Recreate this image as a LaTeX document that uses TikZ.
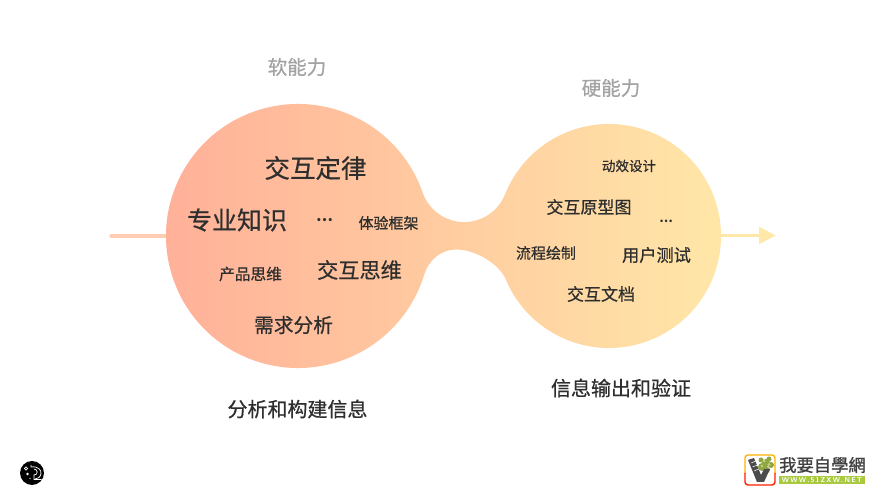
\documentclass[tikz,border=0pt]{standalone}
\usepackage{fontspec}
\usetikzlibrary{arrows.meta,calc}
\newfontfamily\cjk{Noto Sans CJK SC}[FakeBold=0.6]
\newfontfamily\cjkdots{Noto Sans CJK SC}
\newfontfamily\cjkt{Noto Sans CJK TC}[FakeBold=1.2]
\definecolor{peach}{HTML}{FFAF98}
\definecolor{cream}{HTML}{FFE8A8}
\definecolor{inline}{HTML}{FFCDB4}
\definecolor{ink}{HTML}{2E2E2E}
\definecolor{mute}{HTML}{A3A3A3}
\definecolor{leaf}{HTML}{8FA644}
\definecolor{leaflight}{HTML}{C2D07A}
\definecolor{barg}{HTML}{A9C93F}
\tikzset{
  lab/.style={text=ink,inner sep=0pt,font=\cjk\fontsize{#1}{#1}\selectfont},
  dots/.style={text=ink,inner sep=0pt,font=\cjkdots\bfseries\fontsize{#1}{#1}\selectfont},
  head/.style={text=mute,inner sep=0pt,font=\cjk\fontsize{19.5}{20}\selectfont},
}
\begin{document}
\begin{tikzpicture}[x=1pt,y=1pt]
\useasboundingbox (0,0) rectangle (887,500);
\fill[white] (0,0) rectangle (887,500);
\coordinate (L) at (298,264);
\coordinate (R) at (609,264);
\coordinate (N) at (464.2,321.9);
\coordinate (inL) at (111,264);
\coordinate (inE) at (175,264);
\coordinate (outS) at (715,264.5);
\coordinate (outE) at (776,264.5);
\draw[line width=3.2pt,line cap=round,color=inline] (inL) -- (inE);
\draw[line width=3.4pt,color=cream,-{Triangle[length=17pt,width=16.5pt]}] (outS) -- (outE);
\shade[left color=peach,right color=cream,draw=none]
  ($(L)+(19.2:132)$) arc[start angle=19.2,end angle=343,radius=132pt]
  .. controls +(73:15) and (441,250.5) .. (456,250.5)
  .. controls (476,250.5) and +(113:17) .. ($(R)+(203:112)$)
  arc[start angle=203,end angle=518.2,radius=112pt]
  arc[start angle=-21.8,end angle=-160.8,radius=44pt] -- cycle;
\node[head] (soft) at (297,433) {软能力};
\node[head] (hard) at (611,412) {硬能力};
\node[lab=25.5] (a1) at (315.5,332) {交互定律};
\node[lab=25] (a2) at (237,280) {专业知识};
\node[dots=15] (a3) at (324.5,280) {…};
\node[lab=15] (a4) at (388.5,277) {体验框架};
\node[lab=15.7] (a5) at (250.5,226) {产品思维};
\node[lab=21.2] (a6) at (359.5,230) {交互思维};
\node[lab=19.7] (a7) at (293.5,175) {需求分析};
\node[lab=13.5] (b1) at (629,334) {动效设计};
\node[lab=17] (b2) at (589,293) {交互原型图};
\node[dots=12] (b3) at (666,279) {…};
\node[lab=15] (b4) at (546,247) {流程绘制};
\node[lab=17.2] (b5) at (656.5,245) {用户测试};
\node[lab=17] (b6) at (601,206) {交互文档};
\node[lab=20] (c1) at (621,112) {信息输出和验证};
\node[lab=20] (c2) at (297.5,91) {分析和构建信息};
% round badge
\fill[black] (32,27) circle (12);
\begin{scope}[white,line width=.75pt]
\draw (26,31.5) circle (1.7);
\fill (27.5,26) circle (1.4);
\draw (31,35) -- (31,33) .. controls (38,34) and (41.5,30) .. (41,26.5) .. controls (40.5,23) and (38,21) .. (35,21);
\draw (34,31) .. controls (38,31) and (38.5,25) .. (34,25) -- (34,20.5) -- (41.5,20.5);
\fill (30,21.5) circle (.7);
\end{scope}
% site badge
\fill[white,rounded corners=3pt] (744,14) rectangle (776,46);
\draw[line width=1.4pt,rounded corners=3pt,color=orange!60!yellow] (745,26) -- (745,45) -- (775,45) -- (775,26);
\draw[line width=1.4pt,color=red!75!orange,rounded corners=3pt] (745,27) -- (745,15) -- (775,15) -- (775,27);
\fill[leaf] (762,33) circle (4) (766,37) circle (4) (771,35) circle (3) (769,41) circle (2.5) (761,40) circle (2.5) (767,30) circle (3);
\fill[leaflight] (764,39) circle (1.5) (769,35.5) circle (1.6) (762,34) circle (1.3);
\fill[black!70] (748,40) -- (754,42) -- (761,25) -- (764,31) -- (770,31) -- (764,18) -- (757,18) -- cycle;
\draw[white,line width=.5pt] (751,37) -- (756,39) (752.5,33) -- (757.5,35) (754,29) -- (759,31);
\node[inner sep=0pt,text=black!75,font=\cjkt\fontsize{17.3}{17}\selectfont] (t1) at (822.5,35) {我要自學網};
\fill[barg] (779,16) rectangle (865,23.5);
\node[inner sep=0pt,text=white,font=\sffamily\bfseries\fontsize{7}{7}\selectfont] (t2) at (822,19.8) {W\,W\,W\,.\,5\,1\,Z\,X\,W\,.\,N\,E\,T};
\end{tikzpicture}
\end{document}
